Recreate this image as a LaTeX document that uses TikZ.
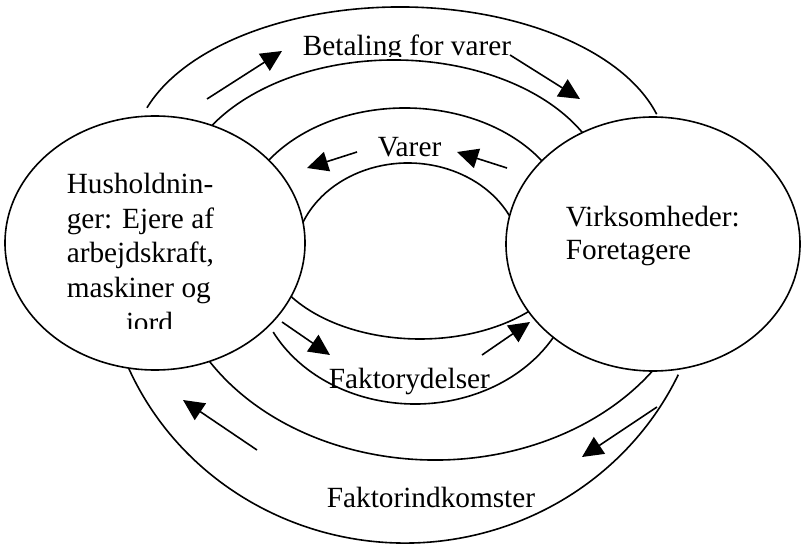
\documentclass[tikz,border=0pt]{standalone}
\usepackage{fontspec}
\setmainfont{Liberation Serif}
\usetikzlibrary{shapes.geometric,arrows.meta}

\tikzset{
  sector/.style={ellipse,draw,fill=white,inner sep=0pt},
  flow/.style={-{Triangle[length=21pt,width=20pt]}},
  caption/.style={inner sep=0pt,font=\fontsize{29.3}{33.5}\selectfont},
}

\begin{document}
\begin{tikzpicture}[x=1pt,y=1pt,line width=1.6pt]
\useasboundingbox (0,0) rectangle (802,544);

% Arcs between the two sectors: centre x/y, radii, start and end angle
\foreach \cx/\cy/\rx/\ry/\s/\e in {%
    400/389/267/148/16/161.4,
    394/344/215/140/27/150,
    405/314/166/122/30/147,
    408/284/114/97/22/160,
    420/304/157/99/214/320,
    415/274/160/134/207.6/335,
    435/294/266/210/208/330,
    405/294/302/293/200/334.8}{%
    \draw ({\cx+\rx*cos(\s)},{\cy+\ry*sin(\s)}) arc[start angle=\s,end angle=\e,x radius=\rx,y radius=\ry];
}

% Sectors:
\node [sector,minimum width=300pt,minimum height=254pt] (hus) at (155,301) {};
\node [sector,minimum width=294pt,minimum height=254pt] (virk) at (653,300) {};

% Texts (base anchor = last line):
\begin{scope}
\clip (40,216) rectangle (280,390);
\node [caption,font=\fontsize{29.3}{34.5}\selectfont,align=left,anchor=base west] (hus_txt) at (66,212)
    {Husholdnin-\\ger: Ejere af\\arbejdskraft,\\maskiner og\\\hspace*{59pt}jord};
\end{scope}
\node [caption,align=left,anchor=base west] (virk_txt) at (565,284) {Virksomheder:\\Foretagere};

\begin{scope}
\clip (290,487.3) rectangle (540,530);
\node [caption,anchor=base west] (betal_txt) at (302,488.3) {Betaling for varer};
\end{scope}
\node [caption,anchor=base west] (varer_txt) at (377,387.3) {Varer};
\node [caption,anchor=base west] (ydel_txt) at (328,156) {Faktorydelser};
\node [caption,anchor=base west] (indk_txt) at (326,37) {Faktorindkomster};

% Start and end points of the arrows
\coordinate (start_bet1) at (207,445);  \coordinate (end_bet1) at (282,493);
\coordinate (start_bet2) at (510,489);  \coordinate (end_bet2) at (580,445);
\coordinate (start_var1) at (357,392);  \coordinate (end_var1) at (307,376);
\coordinate (start_var2) at (507,376);  \coordinate (end_var2) at (457,392);
\coordinate (start_ydel1) at (282,222); \coordinate (end_ydel1) at (330,189);
\coordinate (start_ydel2) at (482,189); \coordinate (end_ydel2) at (530,222);
\coordinate (start_indk1) at (257,94);  \coordinate (end_indk1) at (183,144);
\coordinate (start_indk2) at (657,137); \coordinate (end_indk2) at (582,87);

% Arrows along the flows
\begin{scope}[every path/.style={draw,flow}]
\path (start_bet1) -- (end_bet1);
\path (start_bet2) -- (end_bet2);
\path (start_var1) -- (end_var1);
\path (start_var2) -- (end_var2);
\path (start_ydel1) -- (end_ydel1);
\path (start_ydel2) -- (end_ydel2);
\path (start_indk1) -- (end_indk1);
\path (start_indk2) -- (end_indk2);
\end{scope}
\end{tikzpicture}
\end{document}
